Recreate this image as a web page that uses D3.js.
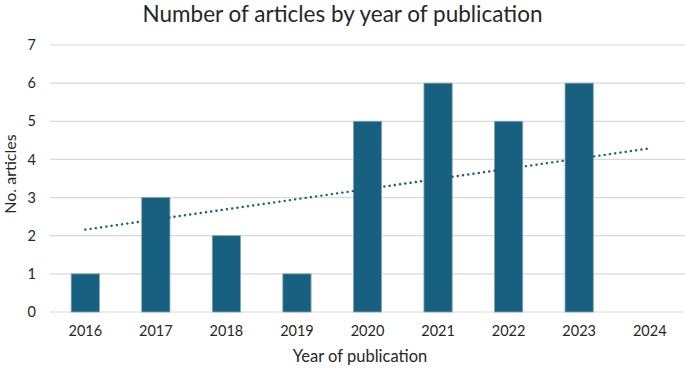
<!DOCTYPE html>
<html>
<head>
<meta charset="utf-8">
<script src="https://cdn.jsdelivr.net/npm/d3@7"></script>
<style>
  body { margin: 0; background: #fff; }
  svg text { font-family: Lato, "Open Sans", sans-serif; fill: #262626; }
</style>
</head>
<body>
<svg class="chart"></svg>
<script>
// values
const years = ["2016", "2017", "2018", "2019", "2020", "2021", "2022", "2023", "2024"]
const articles = [1, 3, 2, 1, 5, 6, 5, 6, 0]
const yTicks = [0, 1, 2, 3, 4, 5, 6, 7]
// linear trendline as drawn: value at first and last year
const trendYears = ["2016", "2024"]
const trendValues = [2.16, 4.29]

const width = 685, height = 368
const margin = {top: 45, right: 0, bottom: 56, left: 50}
const barColor = "#17607f"

const svg = d3.select(".chart")
    .attr("width", width)
    .attr("height", height)

const xScale = d3.scaleBand()
    .domain(years)
    .range([margin.left, width - margin.right])
    .paddingInner(0.6)
    .paddingOuter(0.3)

const yScale = d3.scaleLinear()
    .domain([0, 7])
    .range([height - margin.bottom, margin.top])

// gridlines
svg.append("g")
    .attr("class", "grid")
    .selectAll("line")
    .data(yTicks)
    .join("line")
    .attr("x1", margin.left)
    .attr("x2", width - margin.right)
    .attr("y1", d => yScale(d))
    .attr("y2", d => yScale(d))
    .attr("stroke", "#d9d9d9")
    .attr("stroke-width", 1.2)

// y axis labels
const yAxis = svg.append("g")
    .attr("transform", `translate(${margin.left}, 0)`)
    .call(d3.axisLeft(yScale).tickValues(yTicks).tickFormat(d3.format("d")).tickSize(0).tickPadding(14))
yAxis.select(".domain").remove()
yAxis.selectAll("text")
    .style("font-size", "14.5px")
    .attr("font-family", null)

// x axis labels
const xAxis = svg.append("g")
    .attr("transform", `translate(0, ${height - margin.bottom})`)
    .call(d3.axisBottom(xScale).tickSize(0).tickPadding(14))
xAxis.select(".domain").remove()
xAxis.selectAll("text")
    .style("font-size", "14.5px")
    .attr("font-family", null)

// bars
svg.append("g")
    .selectAll("rect")
    .data(articles.map((v, i) => ({year: years[i], value: v})).filter(d => d.value > 0))
    .join("rect")
    .attr("x", d => xScale(d.year))
    .attr("width", xScale.bandwidth())
    .attr("y", d => yScale(d.value))
    .attr("height", d => yScale(0) - yScale(d.value))
    .attr("fill", barColor)
    .attr("stroke", "#7fa6b8")
    .attr("stroke-width", 0.8)

// dotted trendline
const trendLine = d3.line()
    .x((d, i) => xScale(trendYears[i]) + xScale.bandwidth() / 2)
    .y(d => yScale(d))

svg.append("path")
    .datum(trendValues)
    .attr("d", trendLine)
    .attr("fill", "none")
    .attr("stroke", barColor)
    .attr("stroke-width", 2.4)
    .attr("stroke-linecap", "round")
    .attr("stroke-dasharray", "0.1 5.2")

// titles
svg.append("text")
    .attr("x", width / 2)
    .attr("y", 22)
    .attr("text-anchor", "middle")
    .style("font-size", "22.5px")
    .text("Number of articles by year of publication")

svg.append("text")
    .attr("x", 360)
    .attr("y", 362)
    .attr("text-anchor", "middle")
    .style("font-size", "16.5px")
    .text("Year of publication")

svg.append("text")
    .attr("transform", "translate(16, 174) rotate(-90)")
    .attr("text-anchor", "middle")
    .style("font-size", "16px")
    .text("No. articles")
</script>
</body>
</html>
